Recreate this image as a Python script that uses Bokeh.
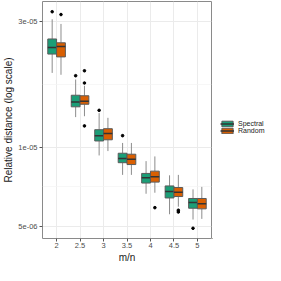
import numpy as np
from bokeh.plotting import figure
from bokeh.layouts import row
from bokeh.models import (ColumnDataSource, FixedTicker, CustomJSTickFormatter,
                          Legend, LegendItem, Range1d)
from bokeh.embed import file_html
from bokeh.resources import INLINE

categories = ["2", "2.5", "3", "3.5", "4", "4.5", "5"]
methods = ["Spectral", "Random"]
colors = {"Spectral": "#1b9e77", "Random": "#d95f02"}

spectral_lower = [1.909e-5, 1.298e-5, 9.29e-6, 7.84e-6, 6.65e-6, 5.56e-6, 5.31e-6]
spectral_q1 = [2.250e-5, 1.420e-5, 1.054e-5, 8.72e-6, 7.30e-6, 6.41e-6, 5.86e-6]
spectral_med = [2.384e-5, 1.480e-5, 1.104e-5, 9.04e-6, 7.65e-6, 6.78e-6, 6.16e-6]
spectral_q3 = [2.567e-5, 1.571e-5, 1.163e-5, 9.47e-6, 7.94e-6, 7.12e-6, 6.38e-6]
spectral_upper = [3.049e-5, 1.802e-5, 1.344e-5, 1.036e-5, 8.84e-6, 7.81e-6, 6.91e-6]
spectral_out_cat = ["2", "2.5", "3", "3.5", "5"]
spectral_out_val = [3.256e-5, 1.863e-5, 1.377e-5, 1.104e-5, 4.92e-6]

random_lower = [1.878e-5, 1.308e-5, 9.65e-6, 7.84e-6, 6.71e-6, 5.94e-6, 5.34e-6]
random_q1 = [2.195e-5, 1.452e-5, 1.065e-5, 8.58e-6, 7.36e-6, 6.49e-6, 5.83e-6]
random_med = [2.403e-5, 1.492e-5, 1.125e-5, 8.98e-6, 7.71e-6, 6.74e-6, 6.09e-6]
random_q3 = [2.483e-5, 1.564e-5, 1.173e-5, 9.39e-6, 8.10e-6, 7.02e-6, 6.38e-6]
random_upper = [2.927e-5, 1.706e-5, 1.290e-5, 1.036e-5, 9.21e-6, 7.84e-6, 7.06e-6]
random_out_cat = ["2", "2.5", "2.5", "2.5", "4", "4.5", "4.5"]
random_out_val = [3.177e-5, 1.945e-5, 1.748e-5, 1.202e-5, 5.89e-6, 5.76e-6, 5.67e-6]

y_ticks = [5e-6, 1e-5, 3e-5]

data = {
    "Spectral": (spectral_lower, spectral_q1, spectral_med, spectral_q3, spectral_upper,
                 spectral_out_cat, spectral_out_val),
    "Random": (random_lower, random_q1, random_med, random_q3, random_upper,
               random_out_cat, random_out_val),
}

box_w = 0.375
offsets = {"Spectral": -box_w / 2, "Random": box_w / 2}
box_line = "#5a5a5a"
med_line = "#333333"
whisker_line = "#8c8c8c"

p = figure(width=212, height=265, y_axis_type="log",
           x_range=Range1d(0.4, len(categories) + 0.6),
           y_range=Range1d(4.5e-6, 3.56e-5),
           output_backend="svg", toolbar_location=None,
           min_border_left=34, min_border_right=1, min_border_top=1, min_border_bottom=0)

p.background_fill_color = "white"
p.border_fill_color = "white"
p.outline_line_color = "#8a8a8a"
p.outline_line_width = 1

for m in methods:
    lo, q1, med, q3, up, oc, ov = data[m]
    xs = [i + 1 + offsets[m] for i in range(len(categories))]
    src = ColumnDataSource(dict(x=xs, lo=lo, q1=q1, med=med, q3=q3, up=up,
                                x0=[x - box_w / 2 for x in xs],
                                x1=[x + box_w / 2 for x in xs]))
    p.segment(x0="x", y0="up", x1="x", y1="q3", source=src, line_color=whisker_line, line_width=1)
    p.segment(x0="x", y0="lo", x1="x", y1="q1", source=src, line_color=whisker_line, line_width=1)
    p.vbar(x="x", width=box_w, bottom="q1", top="q3", source=src,
           fill_color=colors[m], line_color=box_line, line_width=1)
    p.segment(x0="x0", y0="med", x1="x1", y1="med", source=src,
              line_color=med_line, line_width=1.5)
    ox = [categories.index(c) + 1 + offsets[m] for c in oc]
    p.scatter(x=ox, y=ov, size=2.6, color="black")

# x axis
p.xaxis.ticker = FixedTicker(ticks=list(range(1, len(categories) + 1)))
p.xaxis.major_label_overrides = {i + 1: c for i, c in enumerate(categories)}
p.xaxis.axis_label = "m/n"

# y axis
p.yaxis.ticker = FixedTicker(ticks=y_ticks,
                             minor_ticks=[np.sqrt(y_ticks[0] * y_ticks[1]),
                                          np.sqrt(y_ticks[1] * y_ticks[2])])
p.yaxis.formatter = CustomJSTickFormatter(
    code="return tick.toExponential(0).replace(/e-(\\d)$/, 'e-0$1');")
p.yaxis.axis_label = "Relative distance (log scale)"

for ax in (p.xaxis, p.yaxis):
    ax.axis_line_color = None
    ax.major_tick_line_color = "#555555"
    ax.major_tick_out = 3
    ax.major_tick_in = 0
    ax.minor_tick_line_color = None
    ax.major_label_text_font = "Liberation Sans"
    ax.major_label_text_font_size = "7.5px"
    ax.major_label_text_color = "#4d4d4d"
    ax.major_label_standoff = 1
    ax.axis_label_text_font = "Liberation Sans"
    ax.axis_label_text_font_size = "10px"
    ax.axis_label_text_font_style = "normal"
    ax.axis_label_text_color = "#1a1a1a"
    ax.axis_label_standoff = 1

p.xgrid.grid_line_color = "#ebebeb"
p.ygrid.grid_line_color = "#ebebeb"
p.ygrid.minor_grid_line_color = "#f3f3f3"
p.ygrid.minor_grid_line_width = 0.7

# legend panel (separate figure to the right of the plot); its key glyphs
# come from renderers whose single row lies outside this panel's view
lg = figure(width=53, height=265, x_range=Range1d(0, 1), y_range=Range1d(0, 1),
            x_axis_location=None, y_axis_location=None,
            output_backend="svg", toolbar_location=None,
            min_border_left=0, min_border_right=0, min_border_top=0, min_border_bottom=0)
lg.outline_line_color = None
lg.grid.visible = False
lg.background_fill_color = "white"
lg.border_fill_color = "white"

legend_items = []
for m in methods:
    key_src = ColumnDataSource(dict(x=[-10.0], y0=[-10.0], y1=[-9.0]))
    b = lg.vbar(x="x", width=0.1, bottom="y0", top="y1", source=key_src,
                fill_color=colors[m], line_color=box_line, line_width=1)
    md = lg.segment(x0="x", y0="y0", x1="x", y1="y1", source=key_src,
                    line_color=med_line, line_width=1.5)
    legend_items.append(LegendItem(label=m, renderers=[b, md]))

legend = Legend(items=legend_items, location=(8, 104), padding=0, margin=0, spacing=0,
                glyph_width=14, glyph_height=7, label_height=7, label_standoff=4,
                label_text_font_size="7px", label_text_font="Liberation Sans",
                label_text_color="#1a1a1a",
                background_fill_alpha=0, border_line_color=None)
lg.add_layout(legend, "center")

layout = row(p, lg, spacing=0)
open("out.html", "w").write(file_html(layout, INLINE))
